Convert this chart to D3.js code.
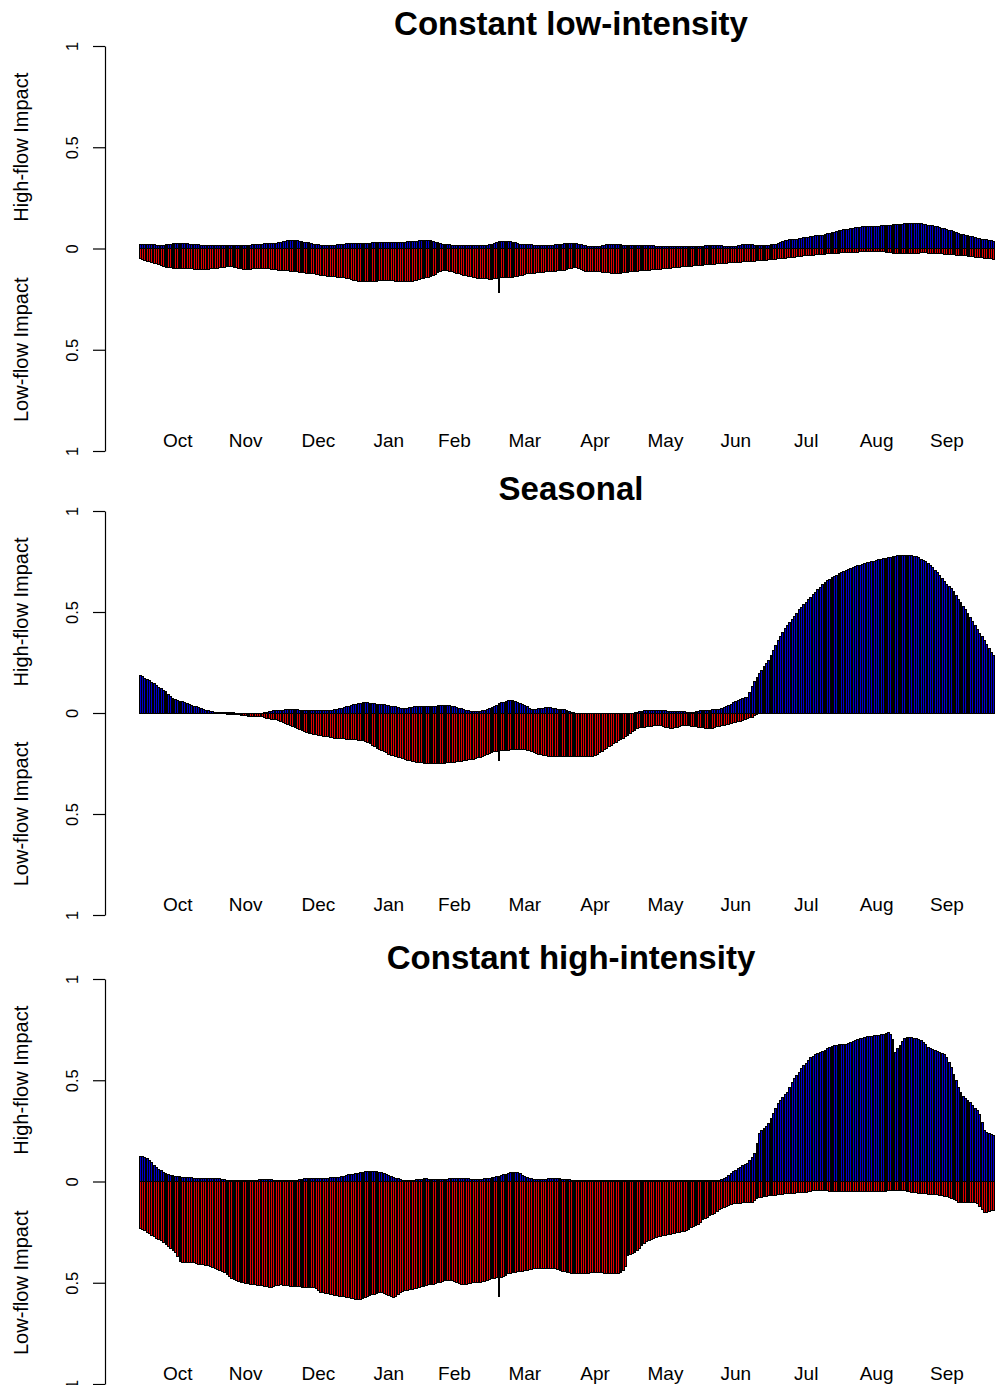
<!DOCTYPE html>
<html><head><meta charset="utf-8">
<script src="https://cdn.jsdelivr.net/npm/d3@7"></script>
<style>body{margin:0;background:#fff}svg{display:block}</style>
</head><body>
<script>
// ---------- data ----------
const panelTitles = ["Constant low-intensity", "Seasonal", "Constant high-intensity"];
const monthLabels = ["Oct","Nov","Dec","Jan","Feb","Mar","Apr","May","Jun","Jul","Aug","Sep"];
const monthLabelDays = [16,45,76,106,134,164,194,224,254,284,314,344];
const yTickValues = [1, 0.5, 0, -0.5, -1];
const yTickLabels = ["1", "0.5", "0", "0.5", "1"];
const highAxisTitle = "High-flow Impact";
const lowAxisTitle = "Low-flow Impact";

// daily values, water year Oct 1 .. Sep 30 (365 days); low-flow values are magnitudes
const lowIntensityHigh = [
0.02,0.02,0.02,0.02,0.02,0.018,0.018,0.016,0.016,0.016,0.016,0.018,0.02,0.022,0.024,0.024,0.025,0.025,0.025,0.025,0.024,0.022,0.02,0.02,0.018,0.018,0.016,0.016,0.015,0.015,0.015,
0.015,0.015,0.015,0.014,0.014,0.014,0.015,0.015,0.015,0.016,0.016,0.015,0.015,0.015,0.015,0.016,0.017,0.018,0.019,0.02,0.021,0.022,0.023,0.024,0.025,0.025,0.025,0.026,0.028,0.03,
0.033,0.036,0.038,0.04,0.04,0.04,0.038,0.036,0.034,0.032,0.03,0.028,0.025,0.022,0.02,0.018,0.016,0.014,0.013,0.013,0.014,0.015,0.016,0.018,0.02,0.021,0.022,0.023,0.024,0.025,0.025,
0.025,0.025,0.024,0.024,0.025,0.026,0.027,0.028,0.029,0.03,0.03,0.03,0.03,0.03,0.029,0.028,0.028,0.028,0.029,0.03,0.031,0.032,0.033,0.034,0.035,0.036,0.037,0.038,0.039,0.04,0.04,
0.04,0.038,0.035,0.032,0.028,0.025,0.022,0.02,0.019,0.018,0.017,0.016,0.015,0.015,0.015,0.015,0.015,0.014,0.014,0.013,0.013,0.013,0.013,0.013,0.014,0.015,0.018,0.022,
0.026,0.03,0.033,0.035,0.036,0.036,0.036,0.034,0.032,0.028,0.025,0.022,0.02,0.02,0.019,0.018,0.018,0.017,0.017,0.016,0.016,0.015,0.015,0.015,0.016,0.017,0.018,0.019,0.02,0.022,0.024,
0.025,0.025,0.025,0.025,0.024,0.022,0.019,0.016,0.013,0.01,0.008,0.008,0.009,0.01,0.012,0.014,0.016,0.018,0.019,0.02,0.02,0.02,0.019,0.018,0.017,0.016,0.015,0.015,0.015,0.015,
0.015,0.015,0.015,0.015,0.015,0.015,0.014,0.013,0.012,0.011,0.01,0.009,0.008,0.008,0.008,0.008,0.008,0.008,0.008,0.008,0.008,0.008,0.008,0.008,0.008,0.009,0.01,0.011,0.012,0.013,0.014,
0.015,0.015,0.015,0.015,0.015,0.014,0.012,0.01,0.009,0.008,0.008,0.01,0.013,0.016,0.019,0.02,0.02,0.019,0.018,0.016,0.015,0.014,0.013,0.013,0.014,0.016,0.018,0.02,0.022,0.025,
0.03,0.035,0.04,0.041,0.042,0.043,0.044,0.045,0.047,0.05,0.052,0.054,0.056,0.058,0.06,0.062,0.064,0.065,0.066,0.068,0.072,0.075,0.078,0.081,0.084,0.087,0.09,0.092,0.094,0.096,0.098,
0.1,0.102,0.104,0.106,0.107,0.108,0.108,0.109,0.109,0.11,0.11,0.111,0.112,0.113,0.114,0.115,0.116,0.117,0.118,0.119,0.12,0.12,0.121,0.122,0.122,0.123,0.123,0.123,0.122,0.121,0.12,
0.118,0.116,0.114,0.112,0.11,0.107,0.104,0.1,0.097,0.093,0.09,0.087,0.083,0.079,0.075,0.071,0.068,0.066,0.063,0.06,0.057,0.054,0.05,0.048,0.046,0.044,0.042,0.04,0.038,0.035
];
const lowIntensityLow = [
0.05,0.054,0.058,0.062,0.066,0.07,0.072,0.074,0.08,0.085,0.09,0.093,0.095,0.096,0.097,0.098,0.098,0.099,0.1,0.1,0.1,0.1,0.101,0.102,0.102,0.103,0.103,0.103,0.103,0.102,0.101,
0.1,0.1,0.098,0.096,0.094,0.092,0.09,0.09,0.09,0.092,0.095,0.098,0.1,0.103,0.105,0.104,0.102,0.1,0.099,0.098,0.098,0.098,0.098,0.099,0.1,0.102,0.104,0.106,0.107,0.108,
0.109,0.11,0.111,0.112,0.113,0.115,0.116,0.117,0.118,0.12,0.121,0.122,0.123,0.125,0.127,0.129,0.131,0.133,0.135,0.137,0.138,0.139,0.14,0.141,0.142,0.143,0.145,0.147,0.15,0.153,0.156,
0.16,0.161,0.162,0.163,0.164,0.165,0.165,0.164,0.163,0.162,0.16,0.158,0.157,0.157,0.158,0.159,0.16,0.161,0.162,0.163,0.164,0.165,0.165,0.165,0.163,0.16,0.157,0.154,0.15,0.147,0.144,
0.142,0.14,0.135,0.128,0.12,0.113,0.107,0.108,0.11,0.113,0.116,0.119,0.122,0.125,0.128,0.131,0.134,0.137,0.14,0.142,0.144,0.146,0.147,0.148,0.149,0.15,0.151,0.152,
0.15,0.148,0.217,0.145,0.145,0.144,0.143,0.142,0.141,0.14,0.138,0.135,0.132,0.128,0.125,0.123,0.122,0.121,0.12,0.119,0.118,0.117,0.116,0.115,0.114,0.113,0.112,0.111,0.11,0.108,0.107,
0.104,0.1,0.097,0.095,0.095,0.098,0.103,0.108,0.112,0.113,0.114,0.114,0.115,0.115,0.116,0.117,0.118,0.119,0.12,0.121,0.122,0.123,0.123,0.122,0.12,0.118,0.117,0.116,0.115,0.114,
0.112,0.111,0.11,0.109,0.108,0.107,0.106,0.105,0.104,0.103,0.102,0.101,0.1,0.098,0.097,0.096,0.095,0.094,0.092,0.091,0.09,0.089,0.088,0.087,0.086,0.085,0.084,0.083,0.082,0.081,0.08,
0.079,0.078,0.077,0.076,0.075,0.074,0.073,0.072,0.071,0.07,0.069,0.068,0.067,0.067,0.066,0.065,0.064,0.063,0.062,0.062,0.061,0.06,0.059,0.058,0.057,0.056,0.055,0.054,0.052,0.051,
0.05,0.048,0.047,0.046,0.044,0.043,0.042,0.04,0.039,0.038,0.037,0.036,0.035,0.034,0.033,0.032,0.031,0.03,0.029,0.028,0.027,0.026,0.025,0.024,0.023,0.023,0.022,0.021,0.021,0.02,0.02,
0.019,0.018,0.018,0.017,0.016,0.016,0.015,0.015,0.014,0.014,0.013,0.013,0.014,0.016,0.018,0.02,0.022,0.024,0.025,0.025,0.025,0.025,0.025,0.025,0.025,0.025,0.024,0.024,0.023,0.022,0.022,
0.022,0.023,0.023,0.024,0.025,0.025,0.026,0.027,0.028,0.029,0.03,0.031,0.032,0.033,0.034,0.035,0.036,0.037,0.038,0.039,0.04,0.042,0.043,0.044,0.045,0.047,0.048,0.05,0.051,0.053
];
const seasonalHigh = [
0.186,0.18,0.172,0.165,0.16,0.152,0.144,0.136,0.128,0.12,0.112,0.104,0.094,0.084,0.074,0.066,0.062,0.058,0.055,0.05,0.047,0.043,0.039,0.034,0.03,0.026,0.022,0.018,0.013,0.01,0.008,
0.005,0.004,0.003,0.003,0.002,0.002,0.002,0.001,0.001,0.001,0,0,0,0,0,0,0,0,0,0,0,0,0.002,0.004,0.006,0.008,0.01,0.011,0.012,0.013,
0.014,0.015,0.016,0.016,0.016,0.015,0.015,0.014,0.014,0.013,0.013,0.012,0.012,0.011,0.011,0.01,0.01,0.01,0.011,0.012,0.013,0.014,0.016,0.018,0.021,0.024,0.027,0.03,0.033,0.036,0.04,
0.043,0.046,0.048,0.05,0.05,0.05,0.049,0.048,0.046,0.044,0.043,0.042,0.04,0.038,0.036,0.034,0.033,0.03,0.027,0.024,0.021,0.022,0.024,0.026,0.028,0.03,0.032,0.033,0.033,0.033,0.033,
0.033,0.033,0.033,0.034,0.035,0.036,0.037,0.038,0.038,0.036,0.033,0.03,0.027,0.024,0.021,0.018,0.014,0.01,0.007,0.005,0.005,0.006,0.008,0.01,0.013,0.016,0.02,0.026,
0.032,0.038,0.046,0.05,0.054,0.058,0.061,0.063,0.062,0.058,0.054,0.049,0.043,0.037,0.03,0.023,0.016,0.016,0.018,0.02,0.022,0.024,0.026,0.026,0.025,0.023,0.021,0.019,0.017,0.016,0.016,
0.012,0.008,0.004,0.002,0,0,0,0,0,0,0,0,0,0,0,0,0,0,0,0,0,0,0,0,0,0,0,0,0,0.001,
0.003,0.005,0.008,0.01,0.012,0.013,0.013,0.012,0.011,0.01,0.01,0.01,0.01,0.009,0.009,0.008,0.008,0.008,0.007,0.006,0.005,0.004,0.003,0.003,0.004,0.006,0.008,0.01,0.011,0.012,0.013,
0.014,0.015,0.016,0.017,0.019,0.022,0.026,0.031,0.038,0.044,0.05,0.056,0.062,0.067,0.072,0.076,0.079,0.1,0.13,0.155,0.178,0.195,0.212,0.23,0.245,0.262,0.285,0.31,0.335,0.36,
0.38,0.4,0.418,0.435,0.45,0.465,0.48,0.495,0.51,0.523,0.536,0.549,0.561,0.573,0.586,0.598,0.61,0.622,0.635,0.647,0.655,0.663,0.67,0.676,0.683,0.69,0.696,0.701,0.706,0.711,0.715,
0.72,0.724,0.728,0.732,0.736,0.74,0.744,0.746,0.749,0.752,0.755,0.758,0.761,0.764,0.767,0.77,0.772,0.774,0.776,0.778,0.779,0.78,0.781,0.781,0.78,0.778,0.776,0.773,0.768,0.762,0.755,
0.748,0.74,0.73,0.72,0.706,0.694,0.68,0.666,0.65,0.634,0.625,0.617,0.6,0.582,0.563,0.545,0.527,0.51,0.494,0.475,0.455,0.435,0.415,0.395,0.378,0.36,0.34,0.318,0.298,0.286
];
const seasonalLow = [
0,0,0,0,0,0,0,0,0,0,0,0,0,0,0,0,0,0,0,0,0,0,0,0,0,0,0,0,0,0,0,
0,0,0,0,0,0.003,0.005,0.007,0.008,0.008,0.008,0.009,0.01,0.012,0.014,0.015,0.016,0.016,0.016,0.016,0.017,0.019,0.022,0.025,0.028,0.03,0.032,0.034,0.036,0.04,
0.045,0.05,0.055,0.06,0.066,0.072,0.078,0.084,0.088,0.092,0.096,0.1,0.103,0.106,0.108,0.11,0.112,0.114,0.116,0.118,0.12,0.122,0.124,0.125,0.126,0.127,0.128,0.129,0.13,0.131,0.132,
0.133,0.134,0.135,0.137,0.14,0.145,0.152,0.16,0.168,0.176,0.182,0.188,0.193,0.198,0.203,0.208,0.212,0.215,0.218,0.222,0.226,0.23,0.234,0.237,0.24,0.242,0.244,0.246,0.247,0.248,0.249,
0.25,0.25,0.25,0.25,0.25,0.25,0.249,0.248,0.247,0.246,0.245,0.244,0.242,0.24,0.238,0.236,0.234,0.232,0.23,0.228,0.226,0.222,0.218,0.213,0.208,0.204,0.2,0.196,
0.193,0.19,0.237,0.188,0.186,0.185,0.184,0.183,0.182,0.181,0.181,0.181,0.182,0.183,0.184,0.186,0.19,0.195,0.2,0.204,0.207,0.21,0.212,0.213,0.214,0.215,0.216,0.216,0.217,0.217,0.217,
0.217,0.217,0.217,0.217,0.217,0.217,0.217,0.217,0.217,0.216,0.215,0.213,0.21,0.205,0.198,0.19,0.181,0.174,0.167,0.16,0.151,0.144,0.137,0.13,0.124,0.118,0.11,0.102,0.094,0.086,
0.077,0.074,0.072,0.07,0.069,0.068,0.066,0.064,0.062,0.061,0.061,0.065,0.07,0.074,0.077,0.077,0.074,0.07,0.066,0.062,0.061,0.062,0.064,0.066,0.068,0.069,0.07,0.072,0.074,0.076,0.077,
0.077,0.075,0.072,0.069,0.066,0.064,0.061,0.058,0.055,0.053,0.049,0.046,0.043,0.04,0.036,0.032,0.028,0.024,0.02,0.014,0.008,0.003,0,0,0,0,0,0,0,0,
0,0,0,0,0,0,0,0,0,0,0,0,0,0,0,0,0,0,0,0,0,0,0,0,0,0,0,0,0,0,0,
0,0,0,0,0,0,0,0,0,0,0,0,0,0,0,0,0,0,0,0,0,0,0,0,0,0,0,0,0,0,0,
0,0,0,0,0,0,0,0,0,0,0.004,0.004,0.004,0.004,0.004,0.004,0.004,0.004,0.004,0.004,0.004,0.004,0.004,0.004,0.004,0.004,0.004,0.004,0.004,0.004
];
const highIntensityHigh = [
0.125,0.122,0.118,0.112,0.104,0.092,0.08,0.068,0.059,0.052,0.045,0.038,0.035,0.032,0.029,0.026,0.025,0.024,0.022,0.021,0.02,0.019,0.018,0.017,0.016,0.015,0.015,0.014,0.014,0.013,0.013,
0.014,0.015,0.016,0.014,0.012,0.009,0.007,0.005,0.005,0.005,0.005,0.005,0.005,0.005,0.005,0.005,0.005,0.005,0.006,0.007,0.008,0.009,0.01,0.01,0.009,0.008,0.007,0.006,0.005,0.005,
0.005,0.005,0.005,0.005,0.005,0.005,0.006,0.008,0.01,0.013,0.016,0.016,0.016,0.016,0.016,0.016,0.016,0.016,0.016,0.017,0.018,0.019,0.02,0.021,0.022,0.024,0.026,0.029,0.033,0.035,0.037,
0.038,0.04,0.043,0.046,0.048,0.05,0.05,0.049,0.048,0.047,0.046,0.043,0.039,0.035,0.03,0.026,0.021,0.017,0.013,0.009,0.005,0.005,0.005,0.005,0.005,0.006,0.008,0.01,0.012,0.013,0.013,
0.012,0.011,0.01,0.01,0.01,0.01,0.01,0.011,0.012,0.013,0.014,0.015,0.016,0.016,0.016,0.016,0.015,0.014,0.012,0.01,0.01,0.01,0.011,0.012,0.013,0.014,0.015,0.018,
0.021,0.024,0.027,0.03,0.033,0.037,0.041,0.044,0.046,0.046,0.043,0.038,0.032,0.026,0.021,0.017,0.014,0.012,0.011,0.01,0.01,0.01,0.011,0.013,0.015,0.016,0.016,0.015,0.014,0.012,0.01,
0.009,0.008,0.007,0.006,0.005,0.005,0.005,0.005,0.005,0.005,0.005,0.006,0.006,0.006,0.005,0.005,0.005,0.004,0.004,0.004,0.004,0.004,0.004,0.004,0.004,0.004,0.004,0.004,0.004,0.004,
0.004,0.004,0.004,0.004,0.004,0.005,0.006,0.007,0.007,0.006,0.005,0.004,0.003,0.003,0.003,0.003,0.003,0.003,0.003,0.003,0.003,0.003,0.003,0.003,0.003,0.003,0.003,0.004,0.004,0.005,0.005,
0.005,0.005,0.005,0.005,0.006,0.01,0.016,0.022,0.03,0.04,0.048,0.055,0.062,0.07,0.078,0.085,0.09,0.105,0.12,0.138,0.19,0.237,0.25,0.262,0.274,0.286,0.31,0.335,0.36,0.385,
0.4,0.415,0.428,0.44,0.465,0.49,0.507,0.524,0.54,0.557,0.571,0.585,0.598,0.612,0.618,0.625,0.631,0.637,0.643,0.649,0.655,0.661,0.667,0.672,0.674,0.676,0.677,0.678,0.679,0.68,0.684,
0.69,0.696,0.7,0.704,0.708,0.712,0.716,0.717,0.718,0.719,0.72,0.721,0.724,0.728,0.732,0.736,0.728,0.7,0.637,0.655,0.672,0.69,0.705,0.711,0.711,0.709,0.707,0.706,0.702,0.696,0.688,
0.675,0.662,0.655,0.65,0.645,0.64,0.636,0.632,0.625,0.61,0.59,0.563,0.53,0.497,0.464,0.44,0.42,0.41,0.4,0.39,0.375,0.36,0.35,0.33,0.29,0.252,0.24,0.235,0.23,0.227
];
const highIntensityLow = [
0.23,0.236,0.243,0.25,0.258,0.266,0.274,0.282,0.287,0.291,0.3,0.31,0.32,0.33,0.34,0.352,0.37,0.395,0.398,0.4,0.4,0.4,0.4,0.402,0.405,0.408,0.41,0.412,0.414,0.416,0.418,
0.423,0.428,0.434,0.44,0.445,0.448,0.46,0.47,0.478,0.484,0.49,0.495,0.5,0.5,0.503,0.506,0.508,0.51,0.51,0.512,0.514,0.516,0.518,0.52,0.521,0.522,0.52,0.516,0.512,0.51,
0.512,0.514,0.516,0.518,0.519,0.52,0.52,0.52,0.522,0.522,0.522,0.522,0.522,0.525,0.53,0.54,0.546,0.55,0.552,0.555,0.558,0.56,0.562,0.565,0.568,0.57,0.57,0.572,0.575,0.578,0.58,
0.582,0.585,0.584,0.58,0.575,0.57,0.565,0.56,0.556,0.552,0.55,0.55,0.555,0.56,0.565,0.57,0.571,0.568,0.56,0.55,0.545,0.54,0.537,0.535,0.532,0.53,0.527,0.524,0.52,0.517,0.513,
0.51,0.51,0.508,0.505,0.5,0.497,0.493,0.49,0.487,0.487,0.49,0.495,0.5,0.505,0.51,0.51,0.508,0.505,0.503,0.5,0.498,0.497,0.497,0.496,0.495,0.49,0.485,0.48,
0.478,0.476,0.57,0.474,0.47,0.462,0.456,0.452,0.45,0.448,0.446,0.444,0.442,0.44,0.438,0.436,0.434,0.432,0.431,0.43,0.43,0.43,0.43,0.43,0.43,0.43,0.432,0.435,0.438,0.442,0.445,
0.448,0.45,0.452,0.452,0.452,0.452,0.452,0.452,0.452,0.452,0.451,0.45,0.45,0.45,0.45,0.45,0.452,0.453,0.454,0.455,0.455,0.455,0.455,0.45,0.44,0.42,0.365,0.36,0.355,0.35,
0.34,0.33,0.318,0.306,0.298,0.29,0.284,0.28,0.277,0.274,0.27,0.267,0.265,0.263,0.26,0.258,0.255,0.252,0.25,0.248,0.245,0.24,0.235,0.227,0.222,0.216,0.21,0.2,0.19,0.182,0.176,
0.17,0.164,0.158,0.15,0.14,0.133,0.127,0.122,0.118,0.114,0.11,0.109,0.108,0.107,0.106,0.105,0.105,0.104,0.104,0.095,0.085,0.079,0.077,0.075,0.073,0.071,0.069,0.068,0.067,0.066,
0.065,0.063,0.061,0.06,0.059,0.058,0.057,0.056,0.055,0.054,0.053,0.052,0.05,0.048,0.046,0.045,0.044,0.044,0.044,0.045,0.046,0.047,0.048,0.048,0.048,0.048,0.048,0.048,0.048,0.048,0.048,
0.048,0.048,0.048,0.048,0.048,0.048,0.048,0.048,0.048,0.048,0.048,0.048,0.048,0.048,0.047,0.046,0.045,0.045,0.045,0.044,0.044,0.045,0.046,0.048,0.05,0.052,0.054,0.056,0.058,0.059,0.06,
0.061,0.062,0.063,0.064,0.065,0.066,0.068,0.07,0.072,0.075,0.078,0.082,0.088,0.095,0.104,0.104,0.104,0.104,0.104,0.104,0.104,0.104,0.11,0.125,0.14,0.153,0.155,0.15,0.145,0.143
];

// ---------- drawing ----------
const W = 995, H = 1385;
const FONT = "'Liberation Sans', Arial, Helvetica, sans-serif";
const HIGH_COLOR = "#0000cd", LOW_COLOR = "#e00000";

const svg = d3.select("body").append("svg")
  .attr("width", W).attr("height", H)
  .style("font-family", FONT);

const panels = [
  { title: panelTitles[0], high: lowIntensityHigh, low: lowIntensityLow, top: 46, bottom: 451, titleY: 35 },
  { title: panelTitles[1], high: seasonalHigh, low: seasonalLow, top: 511, bottom: 915, titleY: 500 },
  { title: panelTitles[2], high: highIntensityHigh, low: highIntensityLow, top: 979, bottom: 1384, titleY: 969 }
];

const nDays = lowIntensityHigh.length;
const x = d3.scaleBand().domain(d3.range(nDays)).range([139, 995]).paddingInner(0.2).paddingOuter(0.1);

panels.forEach(p => {
  const y = d3.scaleLinear().domain([-1, 1]).range([p.bottom, p.top]);
  const g = svg.append("g");

  // title
  g.append("text").attr("x", 571).attr("y", p.titleY)
    .attr("text-anchor", "middle").attr("font-weight", "bold").attr("font-size", 33)
    .text(p.title);

  // y axis
  const axis = d3.axisLeft(y).tickValues(yTickValues).tickSize(12).tickSizeOuter(0)
    .tickFormat((d, i) => yTickLabels[i]);
  const ag = g.append("g").attr("transform", "translate(105,0)").call(axis);
  ag.select(".domain").attr("stroke", "#000").attr("stroke-width", 1.2);
  ag.selectAll(".tick line").attr("stroke", "#000").attr("stroke-width", 1.2);
  ag.selectAll(".tick text")
    .attr("x", null).attr("dy", null)
    .attr("transform", "translate(-27,0) rotate(-90)")
    .attr("text-anchor", "middle")
    .attr("font-family", FONT).attr("font-size", 16.5).attr("fill", "#000");

  // y axis titles
  const y0 = y(0);
  g.append("text").attr("transform", `translate(28,${(p.top + y0) / 2}) rotate(-90)`)
    .attr("text-anchor", "middle").attr("font-size", 20).text(highAxisTitle);
  g.append("text").attr("transform", `translate(28,${(p.bottom + y0) / 2}) rotate(-90)`)
    .attr("text-anchor", "middle").attr("font-size", 20).text(lowAxisTitle);

  // month labels
  g.selectAll("text.month").data(monthLabels).enter().append("text")
    .attr("class", "month")
    .attr("x", (d, i) => x(monthLabelDays[i]) + x.bandwidth() / 2)
    .attr("y", p.bottom - 4)
    .attr("text-anchor", "middle").attr("font-size", 19)
    .text(d => d);

  // bars
  const bars = g.append("g").attr("shape-rendering", "crispEdges");
  bars.selectAll("rect.hi").data(p.high).enter().append("rect")
    .attr("class", "hi")
    .attr("x", (d, i) => x(i)).attr("width", x.bandwidth())
    .attr("y", d => y(d)).attr("height", d => y0 - y(d))
    .attr("fill", HIGH_COLOR).attr("stroke", "#000").attr("stroke-width", 1);
  bars.selectAll("rect.lo").data(p.low).enter().append("rect")
    .attr("class", "lo")
    .attr("x", (d, i) => x(i)).attr("width", x.bandwidth())
    .attr("y", y0).attr("height", d => y(-d) - y0)
    .attr("fill", LOW_COLOR).attr("stroke", "#000").attr("stroke-width", 1);
  bars.append("line")
    .attr("x1", x(0)).attr("x2", x(nDays - 1) + x.bandwidth())
    .attr("y1", y0).attr("y2", y0)
    .attr("stroke", "#000").attr("stroke-width", 1);
});
</script>
</body></html>
